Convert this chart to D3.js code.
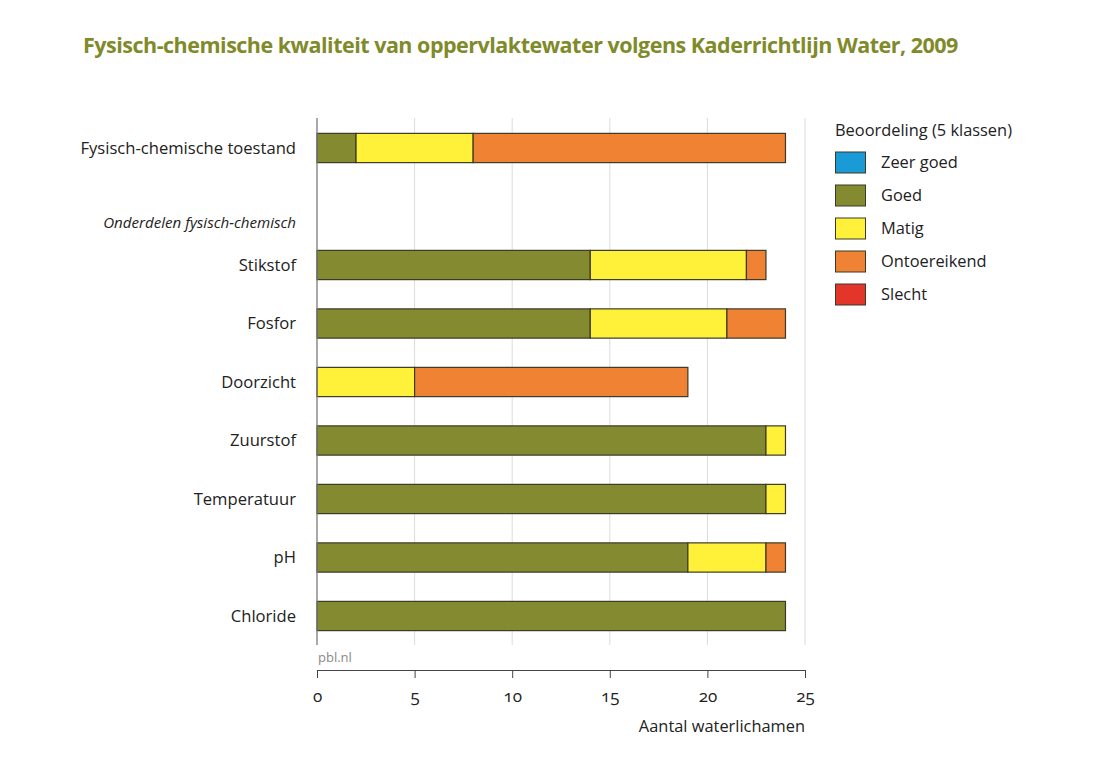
<!DOCTYPE html>
<html>
<head>
<meta charset="utf-8">
<script src="https://cdn.jsdelivr.net/npm/d3@7"></script>
<style>
  body { margin: 0; background: #fff; }
  svg text { font-family: "Open Sans", "Noto Sans", sans-serif; }
</style>
</head>
<body>
<svg id="chart" width="1099" height="772"></svg>
<script>
const categories = ["Fysisch-chemische toestand", "", "Stikstof", "Fosfor", "Doorzicht", "Zuurstof", "Temperatuur", "pH", "Chloride"];
const classes = ["Zeer goed", "Goed", "Matig", "Ontoereikend", "Slecht"];
const zeerGoed =     [0, null, 0, 0, 0, 0, 0, 0, 0];
const goed =         [2, null, 14, 14, 0, 23, 23, 19, 24];
const matig =        [6, null, 8, 7, 5, 1, 1, 4, 0];
const ontoereikend = [16, null, 1, 3, 14, 0, 0, 1, 0];
const slecht =       [0, null, 0, 0, 0, 0, 0, 0, 0];
const xTicks = [0, 5, 10, 15, 20, 25];
const colors = ["#1a9ad6", "#838a2f", "#fff03a", "#ef8233", "#e4352b"];
const sectionLabel = "Onderdelen fysisch-chemisch";

const svg = d3.select("#chart");
const x = d3.scaleLinear().domain([0, 25]).range([317, 805]);
const y = d3.scaleBand().domain(d3.range(categories.length)).range([118.75, 645.25])
  .paddingInner(0.5).paddingOuter(0.25);

// title
svg.append("text").attr("x", 83).attr("y", 53)
  .attr("font-size", 21.5).attr("font-weight", 700).attr("fill", "#7f8b2a")
  .attr("letter-spacing", -0.5)
  .text("Fysisch-chemische kwaliteit van oppervlaktewater volgens Kaderrichtlijn Water, 2009");

// gridlines
svg.append("g").selectAll("line").data(xTicks.slice(1)).join("line")
  .attr("x1", d => x(d)).attr("x2", d => x(d))
  .attr("y1", 118).attr("y2", 645)
  .attr("stroke", "#dcdcdc").attr("stroke-width", 1);

// stacked data
const series = [zeerGoed, goed, matig, ontoereikend, slecht];
const rows = categories.map((c, i) => {
  const r = { idx: i };
  classes.forEach((k, j) => r[k] = series[j][i] || 0);
  return r;
});
const stack = d3.stack().keys(classes)(rows);

svg.append("g").selectAll("g").data(stack).join("g")
  .attr("fill", (d, i) => colors[i])
  .selectAll("rect").data(d => d.filter(p => p[1] - p[0] > 0)).join("rect")
  .attr("x", d => x(d[0]))
  .attr("width", d => x(d[1]) - x(d[0]))
  .attr("y", d => y(d.data.idx))
  .attr("height", y.bandwidth())
  .attr("stroke", "#3b3a28").attr("stroke-width", 1.2);

// y axis line
svg.append("line").attr("x1", 317).attr("x2", 317).attr("y1", 118).attr("y2", 645)
  .attr("stroke", "#7a7a7a").attr("stroke-width", 1.3);

// category labels
svg.append("g").selectAll("text").data(categories.map((c, i) => ({ c, i })).filter(d => d.c)).join("text")
  .attr("x", 296).attr("y", d => y(d.i) + y.bandwidth() / 2)
  .attr("dy", "0.35em").attr("text-anchor", "end")
  .attr("font-size", 16.6).attr("fill", "#222")
  .text(d => d.c);

svg.append("text").attr("x", 296).attr("y", y(1) + y.bandwidth() / 2 + 16)
  .attr("dy", "0.35em").attr("text-anchor", "end")
  .attr("font-size", 15.1).attr("font-style", "italic").attr("fill", "#222")
  .text(sectionLabel);

// pbl.nl
svg.append("text").attr("x", 318).attr("y", 662).attr("font-size", 13).attr("fill", "#8a8a8a")
  .text("pbl.nl");

// x axis
const xAxis = d3.axisBottom(x).tickValues(xTicks).tickSize(8).tickPadding(12).tickSizeOuter(0);
const gx = svg.append("g").attr("transform", "translate(0,670)").call(xAxis);
gx.select(".domain").attr("stroke", "#444");
gx.selectAll(".tick line").attr("stroke", "#444");
gx.selectAll(".tick text").attr("font-size", 17).attr("fill", "#222")
  .style("font-variant-numeric", "oldstyle-nums")
  .attr("font-family", "\"Open Sans\", sans-serif");

svg.append("text").attr("x", 805).attr("y", 732).attr("text-anchor", "end")
  .attr("font-size", 16.4).attr("fill", "#222").text("Aantal waterlichamen");

// legend
const lg = svg.append("g").attr("transform", "translate(835,0)");
lg.append("text").attr("x", 0).attr("y", 136).attr("font-size", 16.4).attr("fill", "#222")
  .text("Beoordeling (5 klassen)");
const li = lg.selectAll("g.item").data(classes).join("g").attr("class", "item")
  .attr("transform", (d, i) => `translate(0,${152 + i * 33})`);
li.append("rect").attr("x", 0.5).attr("y", 0).attr("width", 30).attr("height", 21)
  .attr("fill", (d, i) => colors[i]).attr("stroke", "#3b3a28").attr("stroke-width", 1);
li.append("text").attr("x", 46).attr("y", 10.5).attr("dy", "0.35em")
  .attr("font-size", 16.4).attr("fill", "#222").text(d => d);
</script>
</body>
</html>
